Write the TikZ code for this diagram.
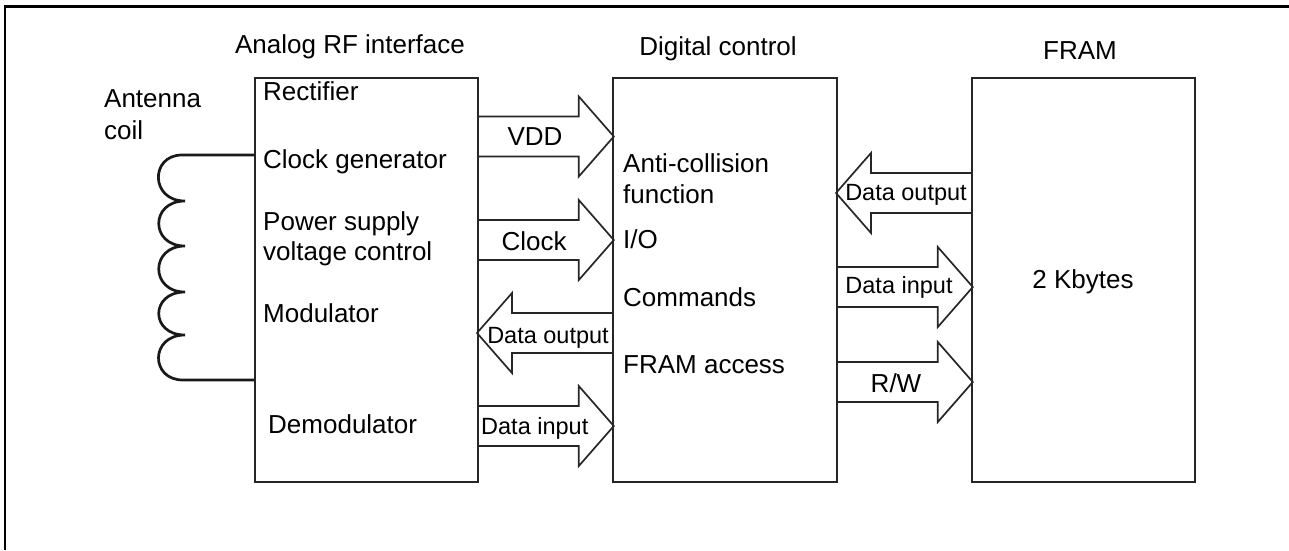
\documentclass[tikz,border=0pt]{standalone}
\usepackage{fontspec}
\setmainfont{Liberation Sans}
\usetikzlibrary{calc}
\tikzset{
  blk/.style={draw=black!85, line width=1.8pt, rectangle, inner sep=0pt, fill=none},
  barrow/.style={draw=black!85, line width=1.7pt, line join=miter},
  txt/.style={inner sep=0pt, font=\fontsize{26}{30}\selectfont},
  stxt/.style={inner sep=0pt, font=\fontsize{23.5}{27}\selectfont},
  coilline/.style={draw=black!90, line width=2.7pt},
}
% right-pointing block arrow from east of #1 at height #2, shaft length #3
\newcommand\barrowR[3]{%
  \draw[barrow] (#1.east |- 0,#2) ++(0,-20) -- ++(#3,0) -- ++(0,-20) -- ++(35,40) -- ++(-35,40) -- ++(0,-20) -- ++(-#3,0);}
% left-pointing block arrow from west of #1 at height #2, shaft length #3
\newcommand\barrowL[3]{%
  \draw[barrow] (#1.west |- 0,#2) ++(0,-20) -- ++(-#3,0) -- ++(0,-20) -- ++(-35,40) -- ++(35,40) -- ++(0,-20) -- ++(#3,0);}
\begin{document}
\begin{tikzpicture}[x=1pt,y=-1pt]
\useasboundingbox (0,0) rectangle (1289,550);
% outer frame (only top and left visible)
\draw[line width=2.4pt] (5,550) -- (5,6.5) -- (1289,6.5);

% boxes
\node[blk, minimum width=223pt, minimum height=404pt, anchor=north west] (rf) at (254,77) {};
\node[blk, minimum width=224pt, minimum height=404pt, anchor=north west] (dc) at (612,77) {};
\node[blk, minimum width=223pt, minimum height=404pt, anchor=north west] (fr) at (971,77) {};

% titles
\node[txt, anchor=base] (t1) at (350,53) {Analog RF interface};
\node[txt, anchor=base] (t2) at (718,55) {Digital control};
\node[txt, anchor=base] (t3) at (1080,59) {FRAM};

% antenna coil
\node[txt, anchor=base west] (ant1) at (104,107) {Antenna};
\node[txt, anchor=base west] (ant2) at (104,139) {coil};
\coordinate (w1) at (182,155);
\coordinate (w2) at (183,380);
\draw[coilline] (rf.west |- w1) -- (w1)
  .. controls (150,155) and (150,201) .. (185,201)
  .. controls (150,201) and (150,246) .. (185,246)
  .. controls (150,246) and (150,292) .. (185,292)
  .. controls (150,292) and (150,335) .. (185,335)
  .. controls (150,335) and (150,380) .. (w2) -- (rf.west |- w2);

% box 1 texts
\node[txt, anchor=base west] (r1) at (263,100) {Rectifier};
\node[txt, anchor=base west] (r2) at (263,168) {Clock generator};
\node[txt, anchor=base west] (r3) at (263,230) {Power supply};
\node[txt, anchor=base west] (r4) at (263,260) {voltage control};
\node[txt, anchor=base west] (r5) at (263,322) {Modulator};
\node[txt, anchor=base west] (r6) at (268,433) {Demodulator};

% box 2 texts
\node[txt, anchor=base west] (d1) at (623,172) {Anti-collision};
\node[txt, anchor=base west] (d2) at (623,203) {function};
\node[txt, anchor=base west] (d3) at (623,248) {I/O};
\node[txt, anchor=base west] (d4) at (623,306) {Commands};
\node[txt, anchor=base west] (d5) at (623,373) {FRAM access};

% box 3 text
\node[txt, anchor=base] (f1) at (1083,288) {2 Kbytes};

% arrows between analog and digital
\barrowR{rf}{136.5}{100}
\barrowR{rf}{240}{100}
\barrowL{dc}{333}{100}
\barrowR{rf}{426}{100}
\node[txt, anchor=base] (l1) at (535,145) {VDD};
\node[txt, anchor=base] (l2) at (534,250) {Clock};
\node[stxt, anchor=base] (l3) at (548,343) {Data output};
\node[stxt, anchor=base west] (l4) at (481,434) {Data input};

% arrows between digital and FRAM
\barrowL{fr}{193}{100}
\barrowR{dc}{287}{100}
\barrowR{dc}{382}{100}
\node[stxt, anchor=base] (l5) at (906,200) {Data output};
\node[stxt, anchor=base] (l6) at (899,293) {Data input};
\node[txt, anchor=base] (l7) at (896,392) {R/W};
\end{tikzpicture}
\end{document}
